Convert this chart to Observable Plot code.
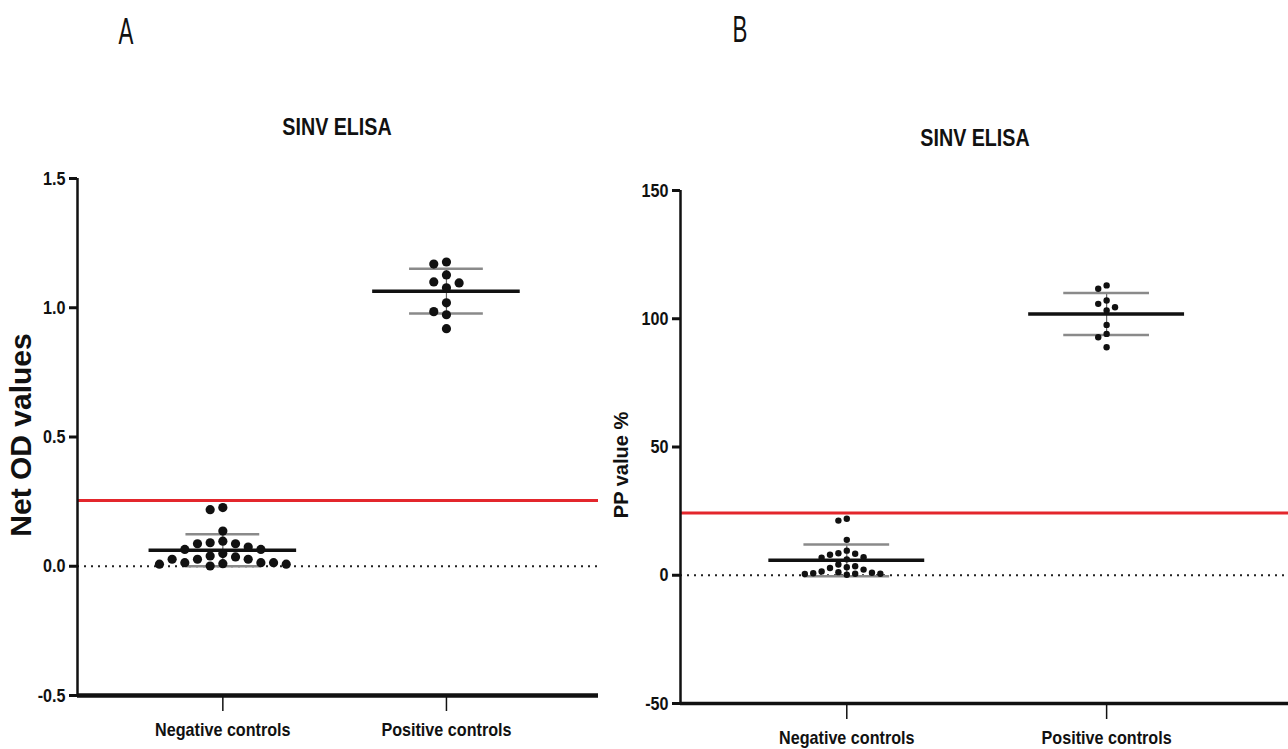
<!DOCTYPE html>
<html><head><meta charset="utf-8">
<script src="https://cdn.jsdelivr.net/npm/d3@7"></script>
<script src="https://cdn.jsdelivr.net/npm/@observablehq/plot@0.6"></script>
<style>
body{margin:0;background:#fff;}
#wrap{position:relative;width:1288px;height:749px;overflow:hidden;color:#111;}
.abs{position:absolute;white-space:nowrap;line-height:1;}
.letter{font-family:"Liberation Sans",Arial,sans-serif;font-size:36px;transform:translate(-50%,-50%) scaleX(0.62);}
.title{font-family:"Liberation Sans",Arial,sans-serif;font-weight:bold;font-size:24px;transform:translate(-50%,-50%) scaleX(0.82);}
.ylab{font-family:"Liberation Sans",Arial,sans-serif;font-weight:bold;transform:translate(-50%,-50%) rotate(-90deg);}
</style></head><body><div id="wrap"></div>
<script>
// ---- data ----
const categories = ["Negative controls", "Positive controls"];
const negOD = [0.227, 0.219, 0.136, 0.097, 0.091, 0.087, 0.087, 0.074, 0.065, 0.065, 0.049, 0.040, 0.036, 0.027, 0.027, 0.027, 0.014, 0.014, 0.014, 0.010, 0.008, 0.008, 0.001];
const posOD = [1.177, 1.169, 1.127, 1.100, 1.096, 1.077, 1.019, 0.985, 0.973, 0.919];
const negPP = [22.0, 21.3, 13.8, 9.6, 8.6, 8.4, 8.0, 7.0, 6.8, 6.2, 4.2, 3.5, 3.1, 2.8, 2.2, 1.5, 1.2, 1.0, 0.8, 0.6, 0.6, 0.5, 0.2];
const posPP = [113.0, 111.7, 107.1, 105.8, 104.5, 103.2, 97.6, 94.1, 92.8, 88.9];
const cutoffOD = 0.254;
const cutoffPP = 24.3;
const ticksOD = [-0.5, 0, 0.5, 1.0, 1.5];
const ticksPP = [-50, 0, 50, 100, 150];
const panelLetters = ["A", "B"];
const titles = ["SINV ELISA", "SINV ELISA"];
const yLabels = ["Net OD values", "PP value %"];

const wrap = document.getElementById("wrap");
const sans = "'Liberation Sans',Arial,sans-serif";

function swarm(values, gi, colStep, minDy, yPx) {
  const pts = values.map(v => ({v, py: yPx(v)})).sort((a, b) => a.py - b.py);
  const placed = [];
  for (const p of pts) {
    for (let k = 0; k < 100; k++) {
      const off = k === 0 ? 0 : (k % 2 ? -Math.ceil(k / 2) : Math.ceil(k / 2));
      if (placed.every(q => q.off !== off || Math.abs(q.py - p.py) >= minDy)) {
        p.off = off; placed.push(p); break;
      }
    }
  }
  return placed.map(p => ({group: categories[gi], value: p.v, x: gi + p.off * colStep}));
}

function panel(cfg) {
  const innerH = cfg.height - cfg.marginTop - cfg.marginBottom;
  const yPx = v => (cfg.yDomain[1] - v) / (cfg.yDomain[1] - cfg.yDomain[0]) * innerH;
  const dots = cfg.groups.flatMap((vals, gi) => swarm(vals, gi, cfg.colStep, cfg.r * 2 + 0.8, yPx));
  const stats = cfg.groups.map((vals, gi) => ({x: gi, mean: d3.mean(vals), sd: d3.deviation(vals)}));
  const chart = Plot.plot({
    width: cfg.width, height: cfg.height,
    marginLeft: cfg.marginLeft, marginRight: cfg.marginRight,
    marginTop: cfg.marginTop, marginBottom: cfg.marginBottom,
    style: {fontFamily: sans, fontWeight: "bold", fontSize: "19px", color: "#111", background: "transparent", overflow: "visible"},
    x: {domain: cfg.xDomain, axis: null},
    y: {domain: cfg.yDomain, axis: null},
    marks: [
      Plot.ruleY([0], {stroke: "#222", strokeWidth: 2, strokeDasharray: "2,5"}),
      Plot.ruleY([cfg.cutoff], {stroke: "#e3262c", strokeWidth: 3}),
      Plot.ruleX(stats, {x: "x", y1: d => d.mean - d.sd, y2: d => d.mean + d.sd, stroke: "#666", strokeWidth: 1.2}),
      Plot.ruleY(stats, {y: d => d.mean + d.sd, x1: d => d.x - cfg.sdHalf, x2: d => d.x + cfg.sdHalf, stroke: "#8a8a8a", strokeWidth: 2.5}),
      Plot.ruleY(stats, {y: d => d.mean - d.sd, x1: d => d.x - cfg.sdHalf, x2: d => d.x + cfg.sdHalf, stroke: "#8a8a8a", strokeWidth: 2.5}),
      Plot.ruleY(stats, {y: "mean", x1: d => d.x - cfg.meanHalf, x2: d => d.x + cfg.meanHalf, stroke: "#111", strokeWidth: 3.5}),
      Plot.dot(dots, {x: "x", y: "value", r: cfg.r, fill: "#111", stroke: "none"}),
      Plot.axisY({ticks: cfg.yTicks, tickFormat: cfg.yFormat, tickSize: 8, tickPadding: 4, strokeWidth: 3, fontSize: 19, fontWeight: "bold", label: null}),
      Plot.axisX({ticks: [0, 1], tickFormat: i => categories[i], tickSize: 16, tickPadding: 11, strokeWidth: 1.5, fontSize: 19, fontWeight: "bold", label: null}),
      Plot.ruleX([cfg.xDomain[0]], {stroke: "#111", strokeWidth: 2.5}),
      Plot.ruleY([cfg.yDomain[0]], {stroke: "#111", strokeWidth: cfg.xAxisWidth})
    ]
  });
  chart.style.position = "absolute";
  chart.style.left = cfg.left + "px";
  chart.style.top = cfg.top + "px";
  wrap.appendChild(chart);
  // condense tick labels horizontally, like the narrow face of the original
  chart.querySelectorAll("g[aria-label$='tick label'] text").forEach(t => {
    const L = t.getComputedTextLength();
    if (L > 0) {
      t.setAttribute("textLength", (L * 0.85).toFixed(1));
      t.setAttribute("lengthAdjust", "spacingAndGlyphs");
    }
  });
}

panel({
  left: 0, top: 150, width: 600, height: 599,
  marginLeft: 77, marginRight: 2, marginTop: 28, marginBottom: 54,
  xDomain: [-0.65, 1.68], yDomain: [-0.5, 1.5],
  groups: [negOD, posOD], cutoff: cutoffOD, yTicks: ticksOD, yFormat: d => d.toFixed(1),
  colStep: 0.0567, r: 4.6, meanHalf: 0.33, sdHalf: 0.165, xAxisWidth: 4.5
});
panel({
  left: 600, top: 160, width: 688, height: 589,
  marginLeft: 80, marginRight: 0, marginTop: 30, marginBottom: 46,
  xDomain: [-0.64, 1.70], yDomain: [-50, 150],
  groups: [negPP, posPP], cutoff: cutoffPP, yTicks: ticksPP, yFormat: d => String(d),
  colStep: 0.0323, r: 3.2, meanHalf: 0.30, sdHalf: 0.165, xAxisWidth: 3.5
});

function addText(cls, txt, left, top, size) {
  const d = document.createElement("div");
  d.className = "abs " + cls; d.textContent = txt;
  d.style.left = left + "px"; d.style.top = top + "px";
  if (size) d.style.fontSize = size + "px";
  wrap.appendChild(d);
}
addText("letter", panelLetters[0], 126, 32);
addText("letter", panelLetters[1], 740, 30);
addText("title", titles[0], 337, 127);
addText("title", titles[1], 975, 138);
addText("ylab", yLabels[0], 21, 435, 30);
addText("ylab", yLabels[1], 621, 465, 20);
</script></body></html>
